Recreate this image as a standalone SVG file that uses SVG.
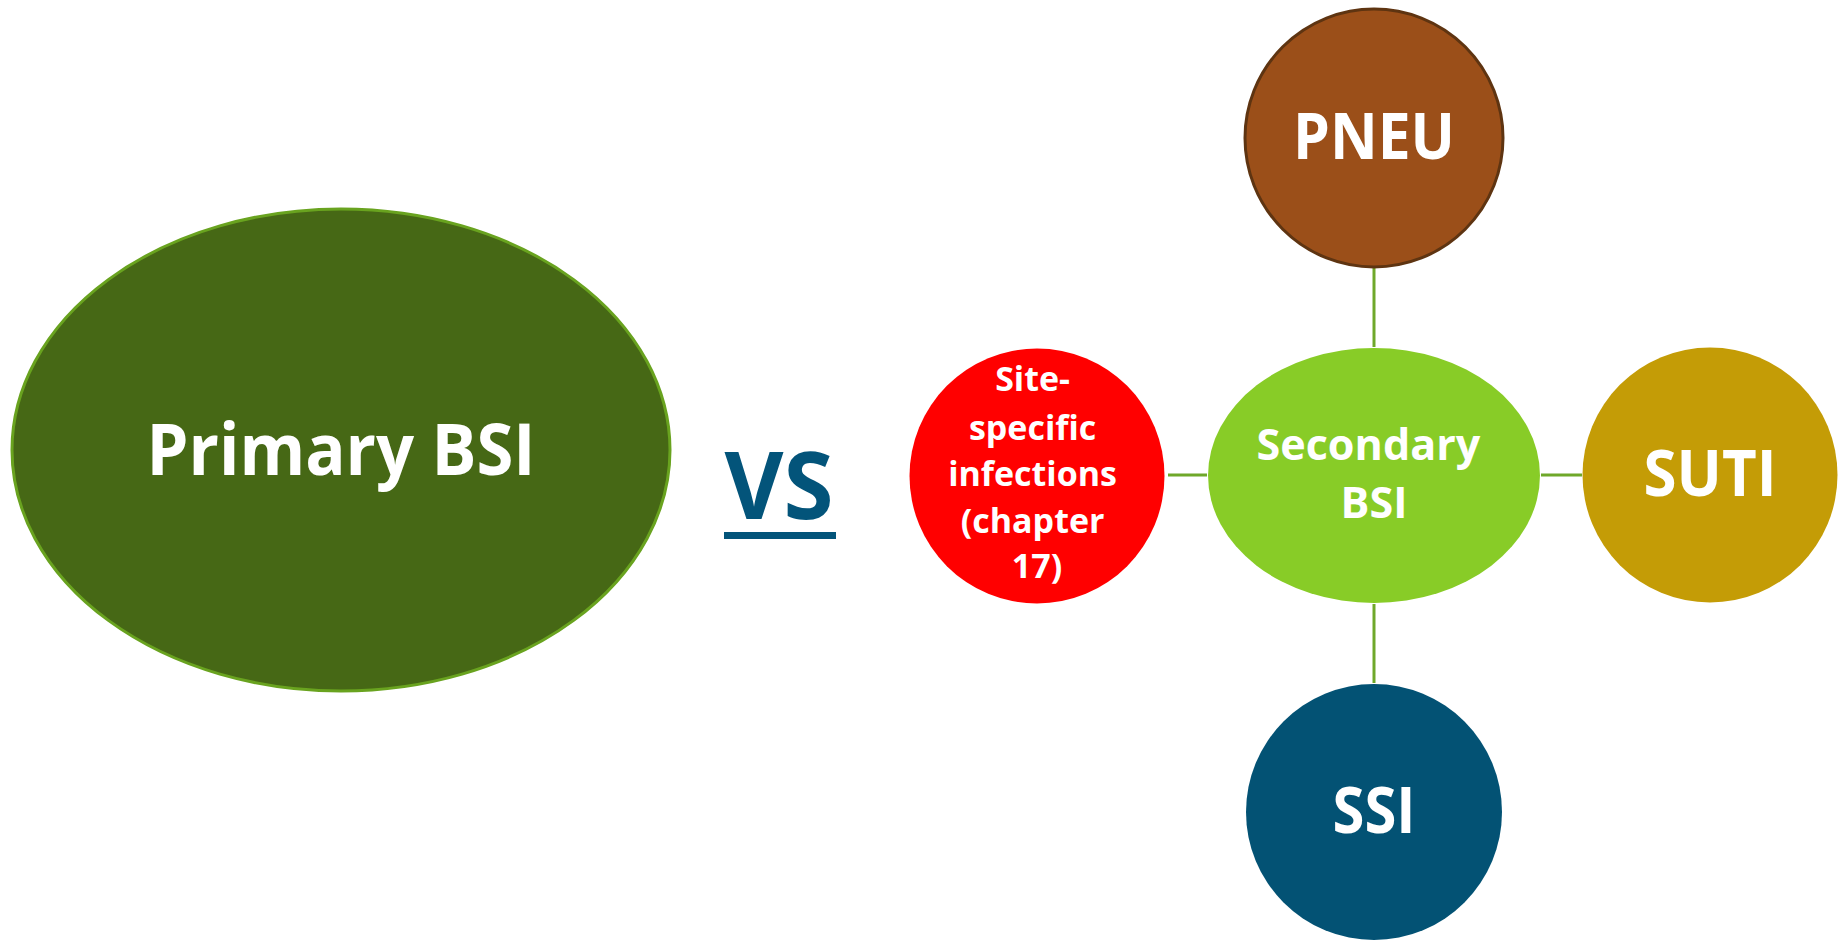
<svg xmlns="http://www.w3.org/2000/svg" width="1838" height="940" viewBox="0 0 1838 940">
<style>
.lbl{font-family:"Open Sans","Noto Sans","DejaVu Sans",sans-serif;font-weight:bold;fill:#ffffff;text-anchor:middle}
.conn{stroke:#6FA82A;stroke-width:3;fill:none}
</style>
<rect width="1838" height="940" fill="#ffffff"/>
<g id="connectors">
<line class="conn" x1="1374" y1="268" x2="1374" y2="347"/>
<line class="conn" x1="1168" y1="475" x2="1207" y2="475"/>
<line class="conn" x1="1541" y1="475" x2="1582" y2="475"/>
<line class="conn" x1="1374" y1="604" x2="1374" y2="683"/>
</g>
<g id="primary-bsi">
<ellipse cx="341" cy="450" rx="329" ry="241" fill="#466815" stroke="#69A31F" stroke-width="3"/>
<text class="lbl" x="341" y="475" font-size="71" textLength="389" lengthAdjust="spacingAndGlyphs">Primary BSI</text>
</g>
<g id="vs">
<text x="779" y="519" font-family="Open Sans, Noto Sans, sans-serif" font-weight="bold" font-size="94" fill="#03547A" text-anchor="middle" textLength="109" lengthAdjust="spacingAndGlyphs">VS</text>
<rect x="724" y="532" width="112" height="7" fill="#03547A"/>
</g>
<g id="site-specific">
<circle cx="1037" cy="476" r="127.5" fill="#FF0000"/>
<text class="lbl" font-size="34">
<tspan x="1037" y="391">Site-</tspan>
<tspan x="1037" y="440">specific</tspan>
<tspan x="1037" y="486">infections</tspan>
<tspan x="1037" y="533">(chapter</tspan>
<tspan x="1037" y="578">17)</tspan>
</text>
</g>
<g id="pneu">
<circle cx="1374" cy="138" r="129" fill="#9B4F19" stroke="#5E3411" stroke-width="3"/>
<text class="lbl" x="1374" y="159" font-size="64" textLength="162" lengthAdjust="spacingAndGlyphs">PNEU</text>
</g>
<g id="secondary-bsi">
<ellipse cx="1374" cy="475.5" rx="166" ry="127.5" fill="#88CC27"/>
<text class="lbl" font-size="43">
<tspan x="1374" y="460" textLength="224" lengthAdjust="spacingAndGlyphs">Secondary</tspan>
<tspan x="1374" y="518">BSI</tspan>
</text>
</g>
<g id="suti">
<circle cx="1710" cy="475" r="127.5" fill="#C49C06"/>
<text class="lbl" x="1710" y="496" font-size="64" textLength="133" lengthAdjust="spacingAndGlyphs">SUTI</text>
</g>
<g id="ssi">
<circle cx="1374" cy="812" r="128" fill="#035274"/>
<text class="lbl" x="1374" y="833" font-size="64" textLength="83" lengthAdjust="spacingAndGlyphs">SSI</text>
</g>
</svg>
